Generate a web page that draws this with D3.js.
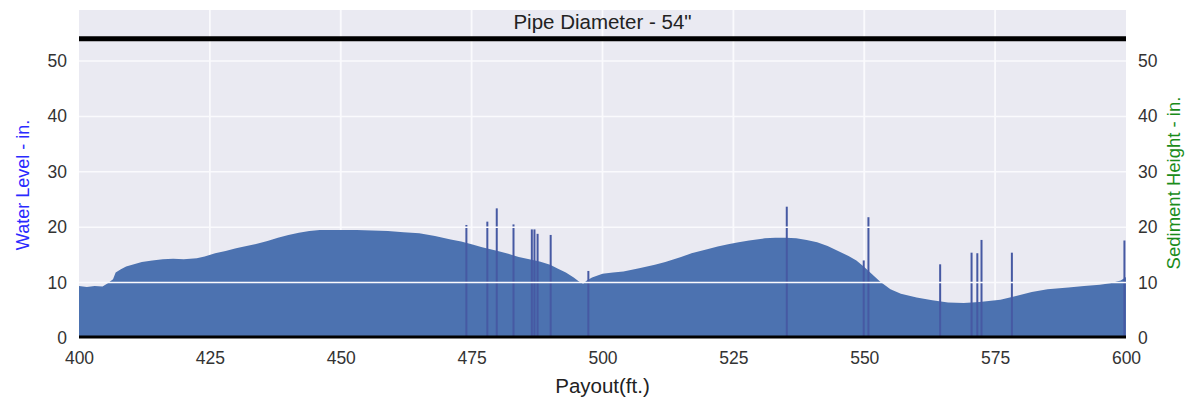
<!DOCTYPE html>
<html>
<head>
<meta charset="utf-8">
<script src="https://cdn.jsdelivr.net/npm/d3@7"></script>
<style>
  body { margin: 0; background: #fff; }
  text { font-family: "Liberation Sans", Arial, sans-serif; }
</style>
</head>
<body>
<svg id="chart"></svg>
<script>
// Water level profile
const payout = [400, 401.5, 403, 404.5, 405.5, 406.5, 407, 408, 409, 410.5, 412, 414, 416, 418, 420, 422.5, 424, 426,
  428, 430, 432, 434, 436, 438, 440, 442, 444, 446, 448, 450, 453, 456, 459, 462, 465, 468, 471, 473, 475,
  477, 480, 482, 484, 486, 488, 490, 491.5, 493, 494.5, 495.5, 496.3, 497, 498, 500, 502, 504, 507, 510,
  512, 515, 517, 520, 522, 524, 526, 528, 531, 533, 535, 537, 539, 541, 543, 545, 547, 548.5, 550, 551.5,
  553, 555, 557, 560, 563, 566, 569, 572, 576, 579, 582, 585, 589, 592, 595, 597, 599, 600];
const waterLevel = [9.4, 9.2, 9.4, 9.3, 9.9, 10.6, 11.8, 12.4, 12.9, 13.3, 13.7, 14.0, 14.2, 14.3, 14.2, 14.4, 14.7, 15.3,
  15.7, 16.2, 16.6, 17.0, 17.5, 18.1, 18.6, 19.0, 19.3, 19.5, 19.5, 19.5, 19.5, 19.4, 19.3, 19.1, 18.9, 18.4, 17.8, 17.4, 16.9,
  16.4, 15.7, 15.2, 14.6, 14.2, 13.8, 13.2, 12.5, 11.8, 10.9, 10.2, 9.8, 10.4, 10.9, 11.6, 11.8, 12.0, 12.6, 13.2,
  13.7, 14.6, 15.3, 16.0, 16.5, 16.9, 17.3, 17.6, 18.0, 18.1, 18.1, 18.0, 17.7, 17.3, 16.6, 15.7, 14.8, 14.0, 12.8, 11.5,
  10.2, 8.8, 8.0, 7.3, 6.8, 6.4, 6.3, 6.5, 6.9, 7.6, 8.3, 8.8, 9.1, 9.4, 9.6, 9.9, 10.4, 11.0];

// Narrow spikes standing above the profile
const spikePayout = [474, 478, 479.8, 483, 486.5, 487, 487.6, 490.1, 497.3, 535.2, 549.9, 550.8, 564.5, 570.5, 571.6, 572.4, 578.2, 599.7];
const spikeLevel = [20.4, 21.0, 23.4, 20.5, 19.6, 19.6, 18.8, 18.6, 12.1, 23.7, 14.0, 21.8, 13.3, 15.4, 15.3, 17.7, 15.4, 17.6];

const xTicks = [400, 425, 450, 475, 500, 525, 550, 575, 600];
const yTicks = [0, 10, 20, 30, 40, 50];
const pipeDiameter = 54;

const W = 1194, H = 401;
const margin = { top: 10, right: 68, bottom: 63, left: 79 };
const width = W - margin.left - margin.right,
      height = H - margin.top - margin.bottom;

const svg = d3.select("#chart").attr("width", W).attr("height", H);
const g = svg.append("g").attr("transform", "translate(" + margin.left + "," + margin.top + ")");

const x = d3.scaleLinear().domain([400, 600]).range([0, width]);
const y = d3.scaleLinear().domain([0, 59.2]).range([height, 0]);

// plot background
g.append("rect").attr("width", width).attr("height", height).attr("fill", "#eaeaf2");

// vertical grid (behind the fill)
g.append("g").selectAll("line")
  .data(xTicks.slice(1, -1)).enter().append("line")
  .attr("x1", d => x(d)).attr("x2", d => x(d))
  .attr("y1", 0).attr("y2", height)
  .attr("stroke", "#fafafd").attr("stroke-width", 1.8);

// water level area
const area = d3.area()
  .x((d, i) => x(payout[i]))
  .y0(y(0))
  .y1(d => y(d));
g.append("path")
  .datum(waterLevel)
  .attr("d", area)
  .attr("fill", "#4c72b0");

// spikes
g.selectAll(".spike")
  .data(spikeLevel).enter().append("rect")
  .attr("class", "spike")
  .attr("x", (d, i) => x(spikePayout[i]) - 1)
  .attr("width", 2)
  .attr("y", d => y(d))
  .attr("height", d => y(0) - y(d))
  .attr("fill", "#4659a3");

// horizontal grid (twin axis, drawn over the fill)
g.append("g").selectAll("line")
  .data(yTicks.slice(1)).enter().append("line")
  .attr("x1", 0).attr("x2", width)
  .attr("y1", d => y(d)).attr("y2", d => y(d))
  .attr("stroke", "#fafafd").attr("stroke-width", 1.5);

// pipe top and bottom
g.append("line")
  .attr("x1", 0).attr("x2", width)
  .attr("y1", y(pipeDiameter)).attr("y2", y(pipeDiameter))
  .attr("stroke", "#000").attr("stroke-width", 5);
g.append("line")
  .attr("x1", 0).attr("x2", width)
  .attr("y1", y(0) - 1).attr("y2", y(0) - 1)
  .attr("stroke", "#000").attr("stroke-width", 3);

// axes
const fmt = d3.format("d");
const xAxis = g.append("g")
  .attr("transform", "translate(0," + height + ")")
  .call(d3.axisBottom(x).tickValues(xTicks).tickFormat(fmt).tickSize(0).tickPadding(14));
const yLeft = g.append("g")
  .call(d3.axisLeft(y).tickValues(yTicks).tickFormat(fmt).tickSize(0).tickPadding(12));
const yRight = g.append("g")
  .attr("transform", "translate(" + width + ",0)")
  .call(d3.axisRight(y).tickValues(yTicks).tickFormat(fmt).tickSize(0).tickPadding(12));
[xAxis, yLeft, yRight].forEach(a => {
  a.select(".domain").remove();
  a.selectAll("text").attr("fill", "#333").style("font-size", "17.5px")
    .style("font-family", "'Liberation Sans', Arial, sans-serif");
});

// title
svg.append("text")
  .attr("x", margin.left + width / 2).attr("y", 29)
  .attr("text-anchor", "middle")
  .attr("fill", "#222").style("font-size", "20.5px")
  .text("Pipe Diameter - 54\"");

// axis labels
svg.append("text")
  .attr("x", margin.left + width / 2).attr("y", 393)
  .attr("text-anchor", "middle")
  .attr("fill", "#222").style("font-size", "20.5px")
  .text("Payout(ft.)");

svg.append("text")
  .attr("transform", "translate(29,185) rotate(-90)")
  .attr("text-anchor", "middle")
  .attr("fill", "#2a2aff").style("font-size", "18px")
  .text("Water Level - in.");

svg.append("text")
  .attr("transform", "translate(1180,183) rotate(-90)")
  .attr("text-anchor", "middle")
  .attr("fill", "#1a8c1a").style("font-size", "18.5px")
  .text("Sediment Height - in.");
</script>
</body>
</html>
